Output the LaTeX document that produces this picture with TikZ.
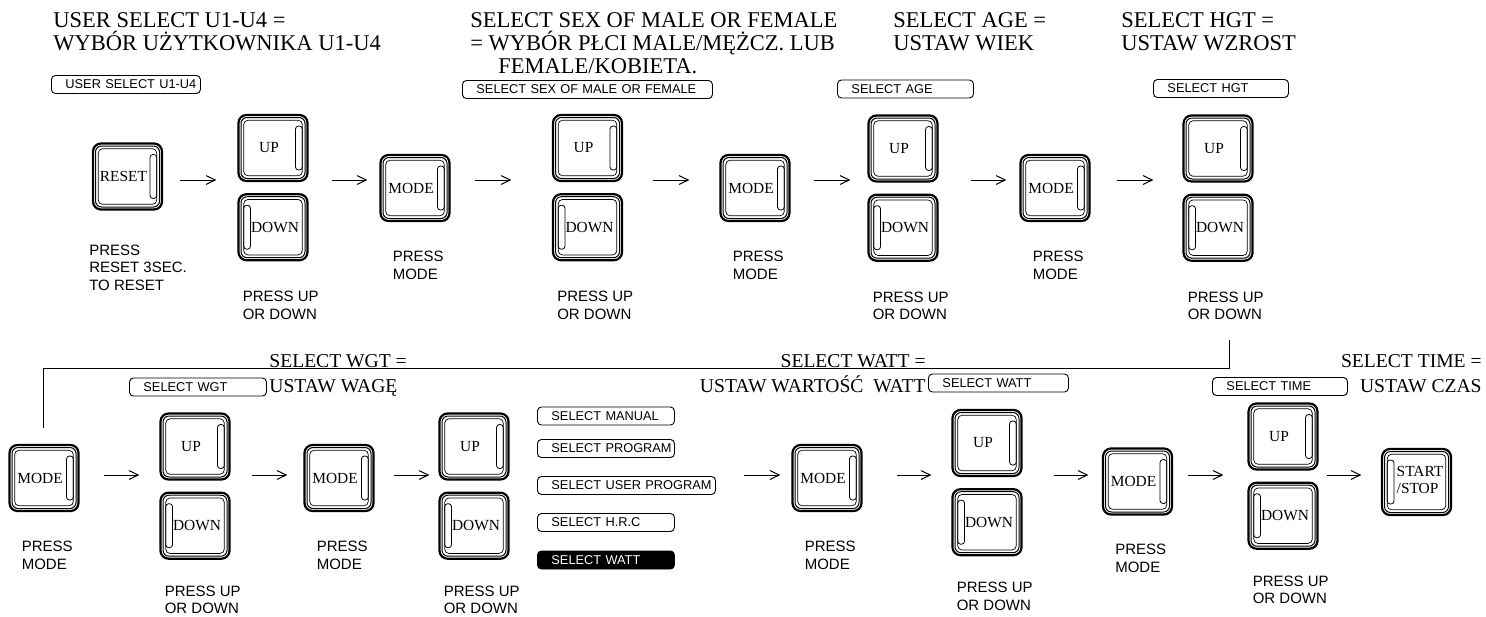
\documentclass[tikz,border=0pt]{standalone}
\usepackage{fontspec}
\setmainfont{Liberation Serif}
\newfontfamily\sansfam{Liberation Sans}
\usetikzlibrary{positioning,arrows.meta,calc}
\newcommand{\headfont}{\fontsize{11.25}{11.5}\selectfont}
\newcommand{\subheadfont}{\fontsize{9.8}{12.5}\selectfont}
\newcommand{\keyfont}{\fontsize{7.7}{8.5}\selectfont}
\newcommand{\notefont}{\sansfam\fontsize{7.5}{8.85}\selectfont}
\newcommand{\panelfont}{\sansfam\fontsize{6.4}{7}\selectfont}
\newcommand{\keyface}{%
  \draw[rim] ([shift={(1.25pt,-1.25pt)}]path picture bounding box.north west)
    rectangle ([shift={(-1.25pt,1.25pt)}]path picture bounding box.south east);
  \draw[face] ([shift={(2.6pt,-2.6pt)}]path picture bounding box.north west)
    rectangle ([shift={(-2.6pt,2.6pt)}]path picture bounding box.south east);}

\begin{document}
\begin{tikzpicture}[
  x=0.5pt, y=-0.5pt,
  >={Straight Barb[length=4.6pt,width=4.4pt]},
  flow/.style={->, line width=0.5pt},
  wire/.style={line width=0.5pt},
  rim/.style={line width=0.5pt, rounded corners=3pt},
  face/.style={line width=0.35pt, rounded corners=2.2pt},
  slot/.style={line width=0.4pt, rounded corners=1.5pt},
  key/.style={draw, line width=1.1pt, rounded corners=4pt, minimum width=34.5pt,
              minimum height=33pt, inner sep=0pt, font=\keyfont},
  keyR/.style={key, execute at begin node={\kern-4pt},
    path picture={\keyface
      \draw[slot] ([shift={(-6pt,-5.5pt)}]path picture bounding box.north east)
        rectangle ([shift={(-2.6pt,5.5pt)}]path picture bounding box.south east);}},
  keyL/.style={key, execute at begin node={\kern2pt},
    path picture={\keyface
      \draw[slot] ([shift={(2.6pt,-5.5pt)}]path picture bounding box.north west)
        rectangle ([shift={(6pt,5.5pt)}]path picture bounding box.south west);}},
  panel/.style={draw, line width=0.45pt, rounded corners=2pt, font=\panelfont,
                anchor=west, inner xsep=0pt, inner ysep=0pt, minimum height=9pt,
                text width=#1, align=left, execute at begin node={\hspace*{7pt}}},
  panel/.default=68.5pt,
  panelon/.style={panel=#1, fill=black, text=white},
  panelon/.default=68.5pt,
  head/.style={font=\headfont, align=left, inner sep=0pt, anchor=base west},
  subhead/.style={font=\subheadfont, align=left, inner sep=0pt, anchor=base west},
  note/.style={font=\notefont, align=left, inner sep=0pt, anchor=base west}
]
\useasboundingbox (0,0) rectangle (1486,616);

% headings (anchored on the baseline of their last line)
\node[head] (tUser) at (53,50) {USER SELECT U1-U4 =\\WYBÓR UŻYTKOWNIKA U1-U4};
\node[head] (tSex) at (470,73)
  {SELECT SEX OF MALE OR FEMALE\\= WYBÓR PŁCI MALE/MĘŻCZ. LUB\\\hspace*{14pt}FEMALE/KOBIETA.};
\node[head] (tAge) at (893,50) {SELECT AGE =\\USTAW WIEK};
\node[head] (tHgt) at (1121,50) {SELECT HGT =\\USTAW WZROST};
\node[subhead] (tWgt) at (269,392) {SELECT WGT =\\USTAW WAGĘ};
\node[subhead,anchor=base east,align=right] (tWatt) at (926,392)
  {SELECT WATT =\\USTAW WARTOŚĆ\ \ WATT};
\node[subhead,anchor=base east,align=right] (tTime) at (1482,392)
  {SELECT TIME =\\USTAW CZAS};

% display panels
\node[panel=74.5pt] (pUser) at (51,84.5) {USER SELECT U1-U4};
\node[panel=125pt] (pSex) at (462,89.5) {SELECT SEX OF MALE OR FEMALE};
\node[panel=68pt] (pAge) at (837,89) {SELECT AGE};
\node[panel=67.5pt] (pHgt) at (1153,88.5) {SELECT HGT};
\node[panel] (pWgt) at (129,387) {SELECT WGT};
\node[panel] (pManual) at (537,416) {SELECT MANUAL};
\node[panel] (pProgram) at (537,448.5) {SELECT PROGRAM};
\node[panel=89pt] (pUserProg) at (537,485.5) {SELECT USER PROGRAM};
\node[panel] (pHrc) at (537,522.5) {SELECT H.R.C};
\node[panelon] (pWattSel) at (537,560) {SELECT WATT};
\node[panel=70pt] (pWatt) at (928,383) {SELECT WATT};
\node[panel=67.5pt] (pTime) at (1212,386.5) {SELECT TIME};

% first row of keys
\node[keyR] (reset) at (127.5,176.5) {RESET};
\node[keyR] (up1) at (273,148) {UP};
\node[keyL,below=5.5pt of up1] (down1) {DOWN};
\node[keyR] (mode1) at (415,188) {MODE};
\node[keyR] (up2) at (587.5,148) {UP};
\node[keyL,below=5.5pt of up2] (down2) {DOWN};
\node[keyR] (mode2) at (755,188) {MODE};
\node[keyR] (up3) at (903,148.5) {UP};
\node[keyL,below=5.5pt of up3] (down3) {DOWN};
\node[keyR] (mode3) at (1055,188) {MODE};
\node[keyR] (up4) at (1218,148.5) {UP};
\node[keyL,below=5.5pt of up4] (down4) {DOWN};

% second row of keys
\node[keyR] (modeA) at (44,478) {MODE};
\node[keyR] (upA) at (195,446.5) {UP};
\node[keyL,below=5.5pt of upA] (downA) {DOWN};
\node[keyR] (modeB) at (339,478) {MODE};
\node[keyR] (upB) at (474,446.5) {UP};
\node[keyL,below=5.5pt of upB] (downB) {DOWN};
\node[keyR] (modeC) at (827,478) {MODE};
\node[keyR] (upC) at (987,443) {UP};
\node[keyL,below=5.5pt of upC] (downC) {DOWN};
\node[keyR] (modeD) at (1137.5,481.5) {MODE};
\node[keyR] (upD) at (1283,436.5) {UP};
\node[keyL,below=5.5pt of upD] (downD) {DOWN};
\node[keyL,execute at begin node={\kern1.5pt}] (start) at (1416.5,482)
  {\begin{tabular}{@{}l@{}}START\\/STOP\end{tabular}};

% captions under the keys
\node[note] (pReset) at ($(reset.south west)+(-3,80)$) {PRESS\\RESET 3SEC.\\TO RESET};
\foreach \k in {mode1,mode2,mode3,modeA,modeB,modeC,modeD}
  \node[note] (p\k) at ($(\k.south west)+(13,57)$) {PRESS\\MODE};
\foreach \k in {down1,down2,down3,down4}
  \node[note] (p\k) at ($(\k.south west)+(5,58)$) {PRESS UP\\OR DOWN};
\foreach \k in {downA,downB,downC,downD}
  \node[note] (p\k) at ($(\k.south west)+(5,54)$) {PRESS UP\\OR DOWN};

% arrows
\coordinate (row1) at (0,180);
\coordinate (row2) at (0,475);
\foreach \a/\b/\s/\e in {reset/up1/8.25pt/10.5pt, up1/mode1/11.5pt/6pt,
    mode1/up2/12pt/20.25pt, up2/mode2/14.75pt/15pt, mode2/up3/11.5pt/8.5pt,
    up3/mode3/16pt/6.5pt, mode3/up4/13pt/14.5pt}
  \draw[flow,shorten <=\s,shorten >=\e] (\a.east |- row1) -- (\b.west |- row1);
\foreach \a/\b/\s/\e in {modeA/upA/12pt/10pt, upA/modeB/10.5pt/8pt,
    modeB/upB/9.5pt/4.5pt, pUserProg/modeC/14pt/5.5pt, modeC/upC/17pt/10pt,
    upC/modeD/15.5pt/6.75pt, modeD/upD/7.25pt/12pt, upD/start/4pt/9.75pt}
  \draw[flow,shorten <=\s,shorten >=\e] (\a.east |- row2) -- (\b.west |- row2);

% return line from the first row to the second
\coordinate (wrap) at (1229,340);
\draw[wire] (wrap) -- ++(0,28) -| ($(modeA.north)+(-1,-16)$);
\end{tikzpicture}
\end{document}
